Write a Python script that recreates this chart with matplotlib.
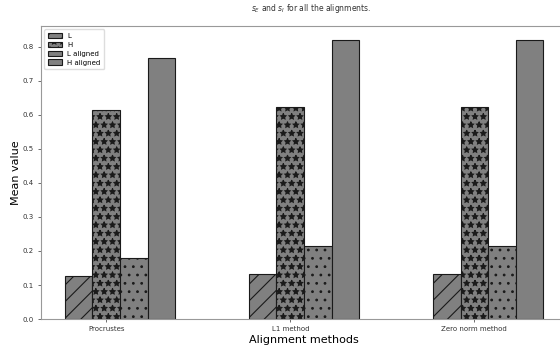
import numpy as np
import matplotlib
matplotlib.use("Agg")
import matplotlib.pyplot as plt

methods = ["Procrustes", "L1 method", "Zero norm method"]
series_names = ["L", "H", "L aligned", "H aligned"]
L_vals = [0.126, 0.132, 0.132]
H_vals = [0.615, 0.624, 0.624]
L_aligned_vals = [0.179, 0.214, 0.214]
H_aligned_vals = [0.768, 0.820, 0.820]
hatches = ["//", "**", "..", ""]

plt.rcParams["hatch.linewidth"] = 0.8

fig = plt.figure(figsize=(5.6, 3.51), dpi=100)
ax = fig.add_axes([0.073, 0.091, 0.94, 0.835])

x = np.arange(len(methods))
w = 0.15
series = [L_vals, H_vals, L_aligned_vals, H_aligned_vals]
offsets = [-1, 0, 1, 2]
for vals, name, hatch, off in zip(series, series_names, hatches, offsets):
    ax.bar(x + off * w, vals, w, label=name, color="#808080",
           edgecolor="#1a1a1a", linewidth=0.8, hatch=hatch)

ax.set_xticks(x)
ax.set_xticklabels(methods, fontsize=5, color="#333333")
ax.set_yticks(np.arange(0, 0.81, 0.1))
ax.set_yticklabels([f"{v:.1f}" for v in np.arange(0, 0.81, 0.1)],
                   fontsize=5, color="#333333")
ax.tick_params(length=2.5, width=0.6, pad=2.5, colors="#555555",
               labelcolor="#333333")
ax.set_xlabel("Alignment methods", fontsize=8, labelpad=2)
ax.set_ylabel("Mean value", fontsize=8, labelpad=1)
for s in ax.spines.values():
    s.set_color("#999999")
    s.set_linewidth(0.8)

ax.legend(fontsize=5, loc="upper left", framealpha=1, edgecolor="#dddddd",
          handlelength=2.0, handleheight=0.8, borderpad=0.5, labelspacing=0.4)
fig.text(0.555, 0.975, r"$s_E$ and $s_I$ for all the alignments.",
         ha="center", va="center", fontsize=5.5, color="#333333")

fig.savefig("out.png", dpi=100)
